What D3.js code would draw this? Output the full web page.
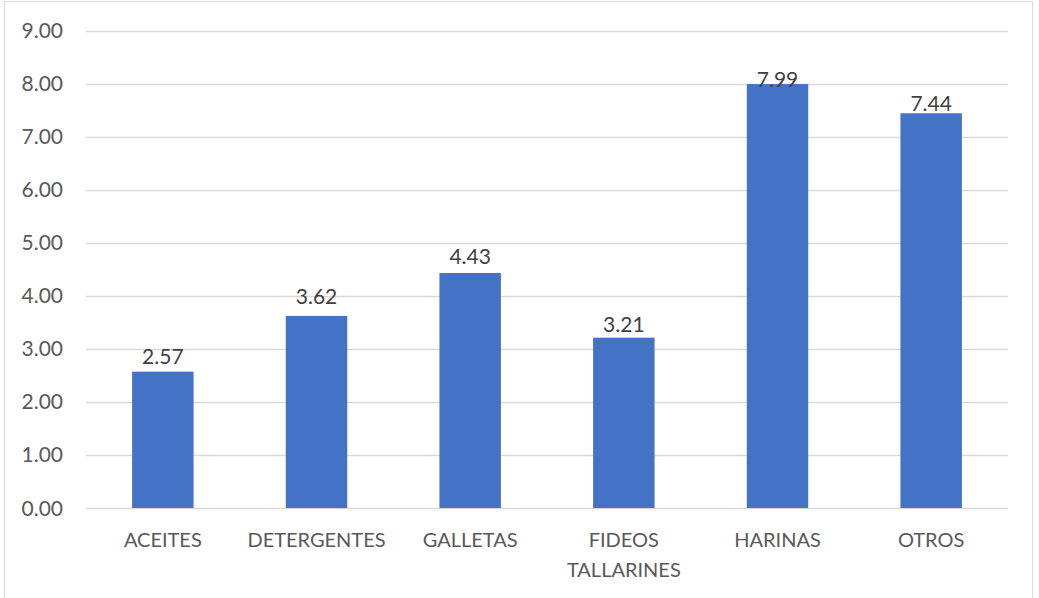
<!DOCTYPE html>
<html>
<head>
<meta charset="utf-8">
<script src="https://cdn.jsdelivr.net/npm/d3@7"></script>
<style>
  body { margin: 0; background: #fff; }
  svg text { font-family: Lato, "Liberation Sans", sans-serif; }
</style>
</head>
<body>
<svg id="chart" width="1039" height="598"></svg>
<script>
// data
var categories = [["ACEITES"], ["DETERGENTES"], ["GALLETAS"], ["FIDEOS", "TALLARINES"], ["HARINAS"], ["OTROS"]];
var values = [2.57, 3.62, 4.43, 3.21, 7.99, 7.44];
var yTicks = [0, 1, 2, 3, 4, 5, 6, 7, 8, 9];

// gap between each value label baseline and its bar top (px), as placed in the original
var labelGap = [8, 12, 9, 6, -3, 2];

var svg = d3.select('#chart');
var margin = { top: 30.5, left: 86, right: 31, bottom: 90 };
var width = 1039, height = 598;

// outer frame
svg.append('rect')
    .attr('x', 4.5).attr('y', 1.5)
    .attr('width', 1028).attr('height', 620)
    .attr('fill', 'none')
    .attr('stroke', '#d9d9d9');

var keys = categories.map(d => d.join(' '));

var x = d3.scaleBand()
    .domain(keys)
    .range([margin.left, width - margin.right])
    .paddingInner(0.6)
    .paddingOuter(0.3);

var y = d3.scaleLinear()
    .domain([0, 9])
    .range([508, margin.top]);

// gridlines
svg.append('g')
    .selectAll('line')
    .data(yTicks)
    .join('line')
    .attr('x1', margin.left)
    .attr('x2', width - margin.right)
    .attr('y1', d => Math.round(y(d)) + 0.5)
    .attr('y2', d => Math.round(y(d)) + 0.5)
    .attr('stroke', '#d9d9d9')
    .attr('stroke-width', 1.3);

// y tick labels
svg.append('g')
    .selectAll('text')
    .data(yTicks)
    .join('text')
    .attr('x', 63)
    .attr('y', d => y(d) + 7.5)
    .attr('text-anchor', 'end')
    .attr('fill', '#595959')
    .attr('font-size', 21)
    .text(d => d.toFixed(2));

var data = keys.map((k, i) => ({ key: k, lines: categories[i], value: values[i], gap: labelGap[i] }));

// bars
svg.append('g')
    .selectAll('rect')
    .data(data)
    .join('rect')
    .attr('x', d => x(d.key))
    .attr('width', x.bandwidth())
    .attr('y', d => y(d.value))
    .attr('height', d => y(0) - y(d.value))
    .attr('fill', '#4472c4');

// value labels
svg.append('g')
    .selectAll('text')
    .data(data)
    .join('text')
    .attr('x', d => x(d.key) + x.bandwidth() / 2)
    .attr('y', d => y(d.value) - d.gap)
    .attr('text-anchor', 'middle')
    .attr('fill', '#404040')
    .attr('font-size', 21)
    .text(d => d.value.toFixed(2));

// category labels
var cat = svg.append('g')
    .selectAll('text')
    .data(data)
    .join('text')
    .attr('x', d => x(d.key) + x.bandwidth() / 2)
    .attr('y', 546.5)
    .attr('text-anchor', 'middle')
    .attr('fill', '#595959')
    .attr('font-size', 20);

cat.selectAll('tspan')
    .data(d => d.lines)
    .join('tspan')
    .attr('x', function() { return d3.select(this.parentNode).attr('x'); })
    .attr('dy', (d, i) => i == 0 ? 0 : 30)
    .text(d => d);
</script>
</body>
</html>
